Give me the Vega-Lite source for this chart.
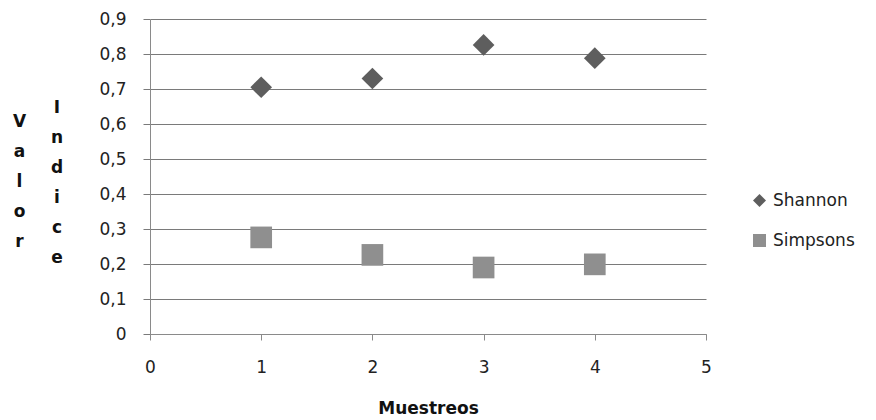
{
  "$schema": "https://vega.github.io/schema/vega-lite/v6.json",
  "autosize": "none",
  "width": 556,
  "height": 315,
  "padding": {"left": 150, "top": 19, "right": 170, "bottom": 86},
  "background": "#ffffff",
  "config": {
    "view": {"stroke": null},
    "font": "DejaVu Sans"
  },
  "title": {
    "text": ["I", "n", "d", "i", "c", "e"],
    "orient": "top",
    "anchor": "start",
    "frame": "group",
    "align": "center",
    "baseline": "alphabetic",
    "lineHeight": 30,
    "font": "DejaVu Sans",
    "fontSize": 17,
    "fontWeight": "bold",
    "color": "#111111",
    "dx": -93,
    "dy": 274
  },
  "data": {
    "values": [
      {"muestreo": 1, "serie": "Shannon", "valor": 0.705},
      {"muestreo": 2, "serie": "Shannon", "valor": 0.730},
      {"muestreo": 3, "serie": "Shannon", "valor": 0.826},
      {"muestreo": 4, "serie": "Shannon", "valor": 0.788},
      {"muestreo": 1, "serie": "Simpsons", "valor": 0.276},
      {"muestreo": 2, "serie": "Simpsons", "valor": 0.226},
      {"muestreo": 3, "serie": "Simpsons", "valor": 0.190},
      {"muestreo": 4, "serie": "Simpsons", "valor": 0.199}
    ]
  },
  "mark": {"type": "point", "filled": true, "size": 470, "opacity": 1, "strokeWidth": 0},
  "encoding": {
    "x": {
      "field": "muestreo",
      "type": "quantitative",
      "scale": {"domain": [0, 5], "nice": false, "zero": false},
      "axis": {
        "values": [0, 1, 2, 3, 4, 5],
        "format": "d",
        "grid": false,
        "labelFlush": false,
        "domainColor": "#8a8a8a",
        "tickColor": "#8a8a8a",
        "tickSize": 6,
        "labelPadding": 19,
        "labelFont": "DejaVu Sans",
        "labelFontSize": 17,
        "labelColor": "#222222",
        "title": "Muestreos",
        "titleFont": "DejaVu Sans",
        "titleFontSize": 17,
        "titleFontWeight": "bold",
        "titleColor": "#111111",
        "titlePadding": 25
      }
    },
    "y": {
      "field": "valor",
      "type": "quantitative",
      "scale": {"domain": [0, 0.9], "nice": false},
      "axis": {
        "values": [0, 0.1, 0.2, 0.3, 0.4, 0.5, 0.6, 0.7, 0.8, 0.9],
        "labelExpr": "replace(format(datum.value, '.1~f'), '.', ',')",
        "grid": true,
        "labelFlush": false,
        "gridColor": "#7a7a7a",
        "gridWidth": 1,
        "domainColor": "#8a8a8a",
        "tickColor": "#7a7a7a",
        "tickSize": 7,
        "labelPadding": 17,
        "labelFont": "DejaVu Sans",
        "labelFontSize": 17,
        "labelColor": "#222222",
        "title": ["V", "a", "l", "o", "r"],
        "titleAngle": 0,
        "titleAlign": "center",
        "titleBaseline": "alphabetic",
        "titleX": -131,
        "titleY": 107,
        "titleLineHeight": 30,
        "titleFont": "DejaVu Sans",
        "titleFontSize": 17,
        "titleFontWeight": "bold",
        "titleColor": "#111111"
      }
    },
    "shape": {
      "field": "serie",
      "type": "nominal",
      "scale": {"domain": ["Shannon", "Simpsons"], "range": ["diamond", "square"]},
      "legend": null
    },
    "color": {
      "field": "serie",
      "type": "nominal",
      "scale": {"domain": ["Shannon", "Simpsons"], "range": ["#5e5e5e", "#8f8f8f"]},
      "legend": {
        "title": null,
        "orient": "none",
        "legendX": 601,
        "legendY": 173,
        "padding": 0,
        "symbolSize": 170,
        "symbolStrokeWidth": 0,
        "labelFont": "DejaVu Sans",
        "labelFontSize": 17,
        "labelColor": "#222222",
        "labelOffset": 5,
        "rowPadding": 22
      }
    }
  }
}
